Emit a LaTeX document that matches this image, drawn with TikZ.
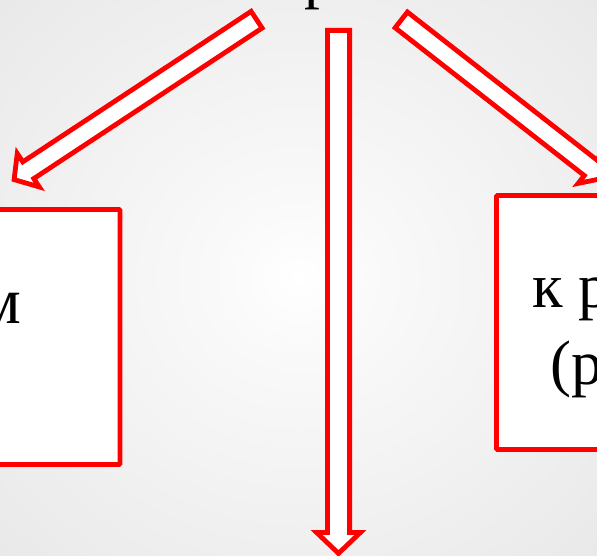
\documentclass[tikz,border=0pt]{standalone}
\usepackage{fontspec}
\setmainfont{Liberation Serif}
\definecolor{arrred}{RGB}{255,0,0}
\pgfdeclareradialshading{bgshade}{\pgfpoint{0bp}{0bp}}{color(0bp)=(white); color(6bp)=(white!98!black); color(50bp)=(black!12); color(71bp)=(black!16)}
\tikzset{
  blockarrow/.style={draw=arrred, line width=4.8pt, fill=white, line join=miter},
  boxstyle/.style={draw=arrred, line width=4.8pt, fill=white, rectangle, rounded corners=1pt, inner sep=0pt},
  slidetext/.style={font=\fontsize{63}{78}\selectfont, inner sep=0pt, text=black}
}
\begin{document}
\begin{tikzpicture}[x=1pt,y=-1pt]
\useasboundingbox (0,0) rectangle (597,556);
\clip (0,0) rectangle (597,556);
\shade[shading=bgshade] (0,0) rectangle (597,556);
% boxes
\node[boxstyle, minimum width=180pt, minimum height=255pt] (leftbox) at (30,337) {};
\node[boxstyle, minimum width=163pt, minimum height=254pt] (rightbox) at (578,322.5) {};
% left arrow
\begin{scope}[shift={(256.6,19.7)}, rotate=213.4]
\draw[blockarrow] (0,10) -- (273.5,10) -- (273.5,20) -- (290.5,0) -- (273.5,-20) -- (273.5,-10) -- (0,-10) -- cycle;
\end{scope}
% middle arrow
\begin{scope}[shift={(338.5,30.4)}, rotate=-90]
\draw[blockarrow] (0,11.1) -- (502,11.1) -- (502,22) -- (523,0) -- (502,-22) -- (502,-11.1) -- (0,-11.1) -- cycle;
\end{scope}
% right arrow
\begin{scope}[shift={(401.3,19.9)}, rotate=-38.0]
\draw[blockarrow] (0,10) -- (240,10) -- (240,20) -- (257,0) -- (240,-20) -- (240,-10) -- (0,-10) -- cycle;
\end{scope}
% texts
\node[slidetext, anchor=base west] (toptext) at (304,-3.5) {р};
\node[slidetext, font=\fontsize{66}{80}\selectfont, anchor=base east] (lefttext) at (21,323) {м};
\node[slidetext, anchor=base west] (righttext1) at (532,307) {к р};
\node[slidetext, anchor=base west] (righttext2) at (550,384.5) {(р};
\end{tikzpicture}
\end{document}
